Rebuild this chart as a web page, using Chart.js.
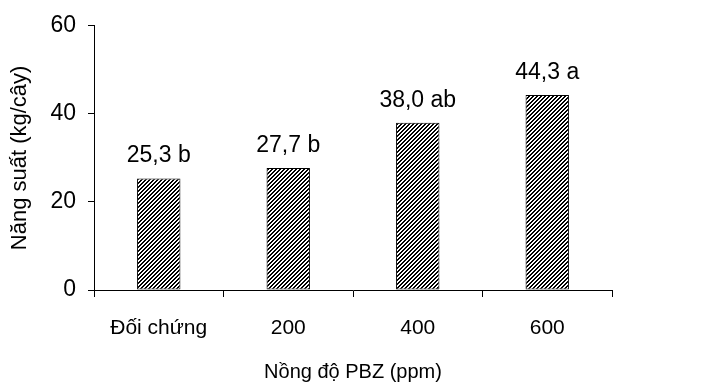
<!DOCTYPE html>
<html>
<head>
<meta charset="utf-8">
<script src="https://cdn.jsdelivr.net/npm/chart.js@4"></script>
<style>
  html, body { margin: 0; padding: 0; background: #fff; }
</style>
</head>
<body>
<canvas id="yieldChart" width="714" height="385"></canvas>
<script>
// Data
const categories = ['Đối chứng', '200', '400', '600'];
const yieldValues = [25.3, 27.7, 38.0, 44.3];
const groupLetters = ['b', 'b', 'ab', 'a'];
const yTicks = [0, 20, 40, 60];

const fontFamily = '"Liberation Sans", Arial, sans-serif';

// Hatch fill: upward diagonal stripes
function makeHatch() {
    const tile = document.createElement('canvas');
    tile.width = 4;
    tile.height = 4;
    const tctx = tile.getContext('2d');
    tctx.fillStyle = '#fff';
    tctx.fillRect(0, 0, 4, 4);
    tctx.fillStyle = '#000';
    for (let x = 0; x < 4; x++) {
        for (let y = 0; y < 4; y++) {
            if ((x + y) % 4 < 2) tctx.fillRect(x, y, 1, 1);
        }
    }
    return document.getElementById('yieldChart').getContext('2d').createPattern(tile, 'repeat');
}

// Value + letter above each bar
const barLabels = {
    id: 'barLabels',
    afterDatasetsDraw(chart) {
        const ctx = chart.ctx;
        const meta = chart.getDatasetMeta(0);
        ctx.save();
        ctx.font = '23px ' + fontFamily;
        ctx.fillStyle = '#000';
        ctx.textAlign = 'center';
        ctx.textBaseline = 'bottom';
        meta.data.forEach((bar, i) => {
            const text = yieldValues[i].toFixed(1).replace('.', ',') + ' ' + groupLetters[i];
            ctx.fillText(text, bar.x, bar.y - 11);
        });
        ctx.restore();
    }
};

new Chart(document.getElementById('yieldChart'), {
    type: 'bar',
    data: {
        labels: categories,
        datasets: [{
            data: yieldValues,
            backgroundColor: makeHatch(),
            borderColor: '#000',
            borderWidth: 1,
            borderSkipped: false,
            categoryPercentage: 1,
            barPercentage: 0.335
        }]
    },
    options: {
        responsive: false,
        animation: false,
        layout: {
            padding: { top: 22, right: 102, bottom: 0, left: 0 }
        },
        plugins: {
            legend: { display: false },
            tooltip: { enabled: false }
        },
        scales: {
            x: {
                afterFit(scale) { scale.height = 95; },
                grid: {
                    offset: true,
                    drawOnChartArea: false,
                    drawTicks: true,
                    tickLength: 7,
                    color: '#000'
                },
                border: { display: true, color: '#000', width: 1 },
                ticks: {
                    color: '#000',
                    padding: 19,
                    font: { family: fontFamily, size: 21 }
                },
                title: {
                    display: true,
                    text: 'Nồng độ PBZ (ppm)',
                    color: '#000',
                    font: { family: fontFamily, size: 20 },
                    padding: { top: 0, bottom: 1 }
                }
            },
            y: {
                min: 0,
                max: 60,
                afterFit(scale) { scale.width = 94; },
                afterBuildTicks(scale) {
                    scale.ticks = yTicks.map(v => ({ value: v }));
                },
                grid: {
                    drawOnChartArea: false,
                    drawTicks: true,
                    tickLength: 6,
                    color: '#000'
                },
                border: { display: true, color: '#000', width: 1 },
                ticks: {
                    color: '#000',
                    padding: 12,
                    font: { family: fontFamily, size: 23 }
                },
                title: {
                    display: true,
                    text: 'Năng suất (kg/cây)',
                    color: '#000',
                    font: { family: fontFamily, size: 22 },
                    padding: { top: 7, bottom: 0 }
                }
            }
        }
    },
    plugins: [barLabels]
});
</script>
</body>
</html>
